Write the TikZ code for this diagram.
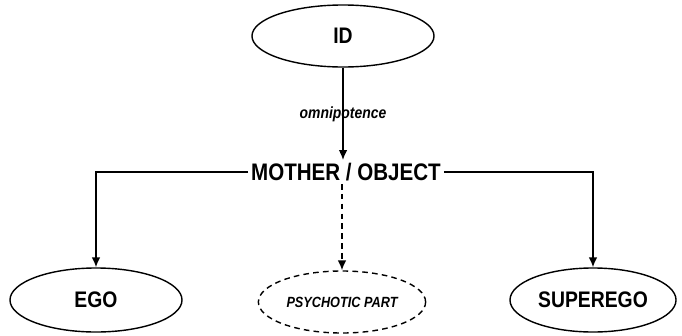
\documentclass[tikz,border=0pt]{standalone}
\usepackage{fontspec}
\setmainfont{Liberation Sans}[FakeStretch=0.86]
\usetikzlibrary{shapes.geometric,arrows.meta}

\tikzset{
  part/.style={ellipse,draw,line width=1pt,inner sep=0pt,font=\fontsize{16}{18}\selectfont\bfseries},
  tip/.style={-{Latex[length=7pt,width=6pt]},line width=1pt}
}

\begin{document}
\begin{tikzpicture}[x=0.025cm,y=-0.025cm]
   \useasboundingbox (0,0) rectangle (682,335);
   \node[part,minimum width=4.55cm,minimum height=1.55cm] (id) at (343,36) {ID};
   \node[font=\fontsize{17}{20}\selectfont\bfseries,inner sep=2pt] (mother) at (346,172) {MOTHER / OBJECT};
   \node[part,minimum width=4.3cm,minimum height=1.6cm] (ego) at (96,300) {EGO};
   \node[part,minimum width=4.15cm,minimum height=1.6cm] (superego) at (593,300) {SUPEREGO};
   \node[part,dashed,dash pattern=on 4pt off 3pt,minimum width=4.18cm,minimum height=1.55cm,
         font=\fontsize{10.5}{12}\selectfont\bfseries\itshape] (psych) at (342,302) {PSYCHOTIC PART};
   %% arrows
   \draw[tip] (id) -- node[pos=0.5,font=\fontsize{11.5}{13}\selectfont\bfseries\itshape] {omnipotence} (id |- mother.north);
   \draw[tip] (mother.west) -| (ego.north);
   \draw[tip] (mother.east) -| (superego.north);
   \draw[tip,dash pattern=on 4pt off 3pt] (psych.north |- mother.south) -- (psych.north);
\end{tikzpicture}
\end{document}
